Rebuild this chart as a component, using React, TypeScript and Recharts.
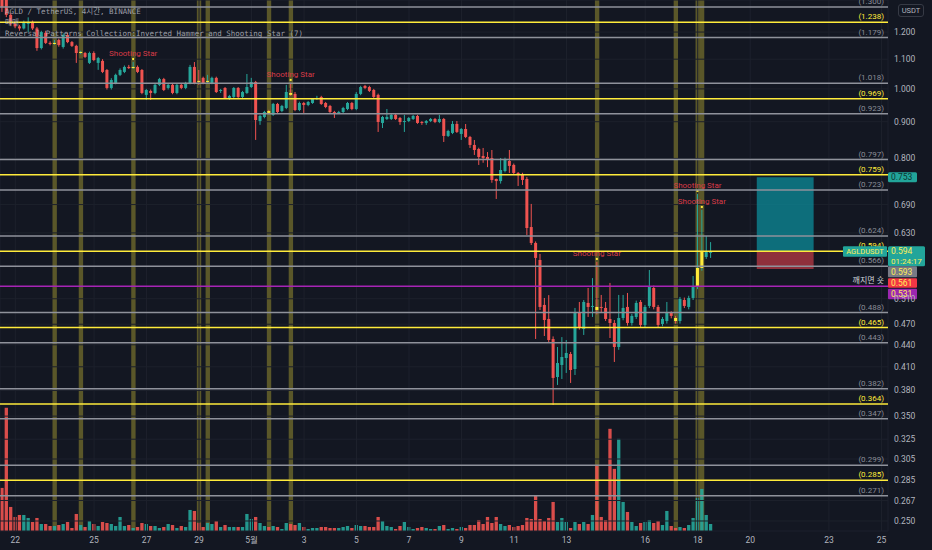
import React from 'react';
import { ComposedChart, Bar, XAxis, YAxis, ReferenceLine, ReferenceArea, CartesianGrid } from 'recharts';

// ---- data (AGLD / TetherUS, 4h candles) ----
const opens = [
  1.35, 1.343, 1.268, 1.232, 1.222, 1.214, 1.232, 1.24, 1.214, 1.14,
  1.197, 1.159, 1.155, 1.17, 1.144, 1.189, 1.162, 1.148, 1.122, 1.122,
  1.087, 1.122, 1.087, 1.094, 1.0625, 1.003, 1.019, 1.046, 1.056, 1.073,
  1.069, 1.073, 1.0625, 0.981, 0.9935, 0.987, 1.013, 1.032, 1.003, 1.013,
  0.987, 1.013, 1.003, 1.019, 1.073, 1.026, 1.036, 1.023, 1.019, 1.036,
  0.9935, 1.003, 0.968, 0.9745, 1.003, 0.9745, 0.987, 1.006, 1.0225, 0.902,
  0.9138, 0.9316, 0.92, 0.9528, 0.9316, 0.9406, 0.987, 0.984, 0.9345, 0.9558,
  0.9497, 0.9558, 0.968, 0.9745, 0.9558, 0.9467, 0.9286, 0.9271, 0.9286, 0.9376,
  0.9558, 0.9376, 0.984, 1.0095, 1.006, 0.9965, 0.981, 0.8965, 0.908, 0.908,
  0.92, 0.9109, 0.8993, 0.902, 0.908, 0.9168, 0.8993, 0.8965, 0.902, 0.908,
  0.8993, 0.908, 0.8599, 0.8682, 0.8936, 0.8654, 0.8793, 0.8571, 0.8354, 0.8246,
  0.8064, 0.8038, 0.8012, 0.749, 0.744, 0.7684, 0.7935, 0.7835, 0.7636, 0.7612,
  0.749, 0.642, 0.61, 0.5776, 0.5, 0.478, 0.4482, 0.3968, 0.4124, 0.4217,
  0.4272, 0.4071, 0.4873, 0.4629, 0.5032, 0.4968, 0.4968, 0.4968, 0.4952, 0.478,
  0.4719, 0.4369, 0.4795, 0.4968, 0.4719, 0.4811, 0.5048, 0.4689, 0.4984, 0.528,
  0.4968, 0.4704, 0.4749, 0.4873, 0.4795, 0.4749, 0.508, 0.4968, 0.5113, 0.5297,
  0.563, 0.5832, 0.5908,
];
const highs = [
  1.37, 1.36, 1.275, 1.24, 1.228, 1.245, 1.258, 1.245, 1.22, 1.205,
  1.205, 1.165, 1.17, 1.175, 1.195, 1.196, 1.166, 1.152, 1.13, 1.126,
  1.127, 1.128, 1.108, 1.1, 1.066, 1.035, 1.05, 1.068, 1.078, 1.08,
  1.09, 1.078, 1.066, 1.0, 0.998, 1.016, 1.036, 1.036, 1.017, 1.017,
  1.017, 1.017, 1.023, 1.08, 1.09, 1.0625, 1.04, 1.046, 1.04, 1.04,
  1.0, 1.006, 0.981, 1.006, 1.006, 0.9935, 1.049, 1.036, 1.026, 0.92,
  0.932, 0.935, 0.956, 0.956, 0.95, 1.013, 1.0193, 0.99, 0.96, 0.959,
  0.962, 0.971, 0.978, 0.978, 0.959, 0.95, 0.932, 0.932, 0.944, 0.959,
  0.959, 0.99, 1.01, 1.013, 1.01, 1.0, 0.985, 0.917, 0.9375, 0.923,
  0.923, 0.914, 0.92, 0.914, 0.92, 0.92, 0.902, 0.905, 0.911, 0.911,
  0.92, 0.911, 0.877, 0.902, 0.902, 0.882, 0.8935, 0.86, 0.8488, 0.828,
  0.8274, 0.8166, 0.822, 0.75, 0.8012, 0.802, 0.822, 0.787, 0.766, 0.764,
  0.754, 0.6914, 0.613, 0.5889, 0.5113, 0.516, 0.452, 0.4369, 0.451, 0.4468,
  0.43, 0.4952, 0.5048, 0.508, 0.528, 0.545, 0.574, 0.5163, 0.5048, 0.5366,
  0.4764, 0.5163, 0.5163, 0.5196, 0.486, 0.507, 0.508, 0.5, 0.5593, 0.532,
  0.5, 0.481, 0.5048, 0.49, 0.4827, 0.513, 0.512, 0.515, 0.5487, 0.714,
  0.6781, 0.6238, 0.6117,
];
const lows = [
  1.28, 1.259, 1.225, 1.215, 1.205, 1.21, 1.2, 1.208, 1.13, 1.135,
  1.155, 1.15, 1.152, 1.145, 1.138, 1.158, 1.144, 1.087, 1.118, 1.104,
  1.083, 1.093, 1.063, 1.052, 0.998, 0.998, 1.015, 1.042, 1.052, 1.066,
  1.066, 1.052, 0.983, 0.965, 0.965, 0.983, 1.009, 0.993, 0.998, 0.983,
  0.983, 0.999, 0.999, 1.015, 1.015, 1.013, 1.015, 1.019, 1.015, 0.987,
  0.987, 0.968, 0.965, 0.971, 0.971, 0.971, 0.984, 1.003, 0.849, 0.891,
  0.91, 0.922, 0.917, 0.925, 0.928, 0.937, 0.978, 0.931, 0.931, 0.9257,
  0.946, 0.953, 0.965, 0.95, 0.94, 0.925, 0.911, 0.924, 0.925, 0.934,
  0.934, 0.934, 0.98, 0.999, 0.99, 0.971, 0.871, 0.882, 0.905, 0.905,
  0.905, 0.891, 0.871, 0.899, 0.905, 0.894, 0.891, 0.891, 0.899, 0.896,
  0.896, 0.8434, 0.857, 0.865, 0.868, 0.849, 0.854, 0.8274, 0.809, 0.7835,
  0.789, 0.778, 0.74, 0.7025, 0.738, 0.765, 0.7636, 0.76, 0.7324, 0.7348,
  0.6258, 0.606, 0.4483, 0.492, 0.4526, 0.443, 0.3627, 0.3868, 0.3943, 0.402,
  0.3893, 0.3994, 0.462, 0.4541, 0.4811, 0.4811, 0.485, 0.4873, 0.475, 0.4497,
  0.4164, 0.433, 0.476, 0.468, 0.468, 0.478, 0.465, 0.465, 0.495, 0.493,
  0.465, 0.467, 0.471, 0.479, 0.471, 0.471, 0.495, 0.493, 0.508, 0.526,
  0.558, 0.5795, 0.5814,
];
const closes = [
  1.3, 1.268, 1.232, 1.222, 1.214, 1.236, 1.24, 1.214, 1.14, 1.2,
  1.159, 1.155, 1.159, 1.151, 1.189, 1.162, 1.148, 1.122, 1.126, 1.108,
  1.122, 1.097, 1.104, 1.056, 1.003, 1.029, 1.046, 1.0625, 1.073, 1.069,
  1.073, 1.056, 0.987, 0.9965, 0.987, 1.013, 1.032, 0.9965, 1.013, 0.987,
  1.013, 1.003, 1.019, 1.073, 1.019, 1.023, 1.019, 1.026, 1.036, 0.99,
  0.9965, 0.971, 0.9776, 1.003, 0.9745, 0.99, 1.006, 1.0225, 0.905, 0.9168,
  0.9286, 0.9257, 0.9528, 0.9286, 0.9467, 0.9902, 0.981, 0.9345, 0.9558, 0.9497,
  0.9589, 0.968, 0.9713, 0.9528, 0.9436, 0.9286, 0.9257, 0.9286, 0.9406, 0.9558,
  0.9376, 0.984, 1.006, 1.003, 0.9935, 0.9745, 0.8993, 0.9138, 0.914, 0.92,
  0.908, 0.8993, 0.902, 0.9109, 0.9168, 0.8965, 0.8965, 0.902, 0.908, 0.8993,
  0.908, 0.8599, 0.8737, 0.8936, 0.871, 0.8793, 0.8571, 0.8354, 0.822, 0.8038,
  0.8012, 0.7985, 0.7466, 0.744, 0.7709, 0.7985, 0.781, 0.7636, 0.7587, 0.7466,
  0.64, 0.61, 0.5814, 0.4968, 0.4764, 0.4468, 0.3956, 0.415, 0.4231, 0.4286,
  0.4058, 0.4873, 0.4659, 0.5048, 0.4968, 0.4984, 0.492, 0.4952, 0.478, 0.4719,
  0.4369, 0.4795, 0.4952, 0.4719, 0.4827, 0.5032, 0.4689, 0.4968, 0.5297, 0.4968,
  0.4689, 0.478, 0.4873, 0.4827, 0.4749, 0.5097, 0.4984, 0.5113, 0.5297, 0.563,
  0.5945, 0.5926, 0.594,
];
// volume in 10k AGLD
const volumes = [
  43, 123, 24, 14, 16, 16, 13, 9, 13, 7,
  7, 5, 5, 6, 7, 9, 3, 17, 6, 4,
  10, 7, 5, 9, 8, 7, 5, 14, 5, 6,
  3, 4, 8, 7, 5, 5, 3, 4, 7, 6,
  3, 5, 4, 21, 20, 8, 4, 8, 7, 10,
  4, 6, 4, 4, 4, 4, 17, 12, 14, 8,
  5, 4, 5, 4, 2, 8, 7, 6, 8, 4,
  2, 3, 3, 4, 4, 3, 3, 3, 4, 5,
  3, 6, 5, 5, 4, 4, 14, 10, 5, 4,
  2, 5, 9, 4, 2, 3, 4, 3, 2, 2,
  5, 6, 2, 3, 2, 4, 3, 6, 6, 11,
  7, 14, 8, 14, 7, 5, 6, 4, 5, 6,
  13, 12, 35, 12, 10, 13, 29, 9, 13, 9,
  3, 9, 7, 9, 7, 16, 66, 14, 11, 102,
  62, 92, 29, 19, 9, 5, 8, 9, 11, 8,
  10, 6, 20, 5, 3, 4, 3, 6, 13, 33,
  42, 16, 7,
];
const patternSlots = [12, 18, 30, 45, 47, 61, 66, 136, 154, 159, 160];
const shootingStarSlots = [30, 66, 136, 159, 160];
const futureSlots = 40;

const tickSlots = [3, 21, 33, 45, 57, 69, 81, 93, 105, 117, 129, 147, 159, 171, 189, 201];
const tickLabels = ['22', '25', '27', '29', '5월', '3', '5', '7', '9', '11', '13', '16', '18', '20', '23', '25'];
const priceTicks = [1.2, 1.1, 1.0, 0.9, 0.8, 0.69, 0.63, 0.51, 0.47, 0.44, 0.41, 0.38, 0.35, 0.325, 0.305, 0.285, 0.267, 0.25];

const grayLevels = [1.3, 1.179, 1.018, 0.923, 0.797, 0.723, 0.624, 0.566, 0.488, 0.443, 0.382, 0.347, 0.299, 0.271];
const yellowLevels = [1.238, 0.969, 0.759, 0.594, 0.465, 0.364, 0.285];
const breakLevel = 0.531;
const breakText = '깨지면 숏';

const posEntry = 0.594;
const posTarget = 0.753;
const posStop = 0.561;
const posFromSlot = 173;
const posToSlot = 185;

const lastPrice = 0.594;
const markPrice = 0.593;
const countdown = '01:24:17';
const symbolTag = 'AGLDUSDT';

const priceDomain: [number, number] = [0.2421, 1.33];
const volDomain: [number, number] = [0, 530];

// ---- styling ----
const BG = '#131722';
const TEAL = '#26a69a';
const RED = '#ef5350';
const YELLOW = '#ffeb3b';
const TAG_TEXT = '#ffee58';
const GRAY_LINE = '#8f929b';
const AXIS_TEXT = '#b2b5be';
const FONT = "Roboto, 'Noto Sans', 'Noto Sans CJK KR', sans-serif";
const MONO = "'DejaVu Sans Mono', 'Noto Sans CJK KR', monospace";
const W = 932;
const H = 550;

const rows = Array.from({ length: opens.length + futureSlots }, (_, i) =>
  i < opens.length
    ? {
        i,
        o: opens[i],
        h: highs[i],
        l: lows[i],
        c: closes[i],
        v: volumes[i],
        pat: patternSlots.includes(i),
        ss: shootingStarSlots.includes(i),
      }
    : { i }
);

const CandleShape = (props: any) => {
  const { x, y, width, height, payload } = props;
  if (!payload || payload.o == null || !isFinite(y) || !isFinite(height)) return <g />;
  const { o, h, l, c } = payload;
  const top = Math.min(y, y + height);
  const bot = Math.max(y, y + height);
  const lh = Math.log(h);
  const span = lh - Math.log(l) || 1;
  const py = (v: number) => top + ((bot - top) * (lh - Math.log(v))) / span;
  const cx = x + width / 2;
  const up = c >= o;
  const dirColor = up ? TEAL : RED;
  const bodyColor = payload.pat ? YELLOW : dirColor;
  const yo = py(o);
  const yc = py(c);
  const bt = Math.min(yo, yc);
  const bh = Math.max(1, Math.abs(yo - yc));
  return (
    <g>
      <rect x={cx - 0.5} y={top} width={1} height={Math.max(1, bot - top)} fill={dirColor} />
      <rect x={cx - 1.5} y={bt} width={3} height={bh} fill={bodyColor} />
      {payload.ss ? (
        <g>
          <rect x={cx - 1} y={top - 4} width={2} height={2} fill={YELLOW} />
          <text x={cx} y={top - 6} textAnchor="middle" fontSize={8} fontFamily={FONT} fill="#d93b47">
            Shooting Star
          </text>
        </g>
      ) : null}
    </g>
  );
};

const VolumeShape = (props: any) => {
  const { x, y, width, height, payload } = props;
  if (!payload || payload.v == null || !isFinite(y) || !isFinite(height)) return <g />;
  const cx = x + width / 2;
  const color = payload.c >= payload.o ? TEAL : RED;
  return <rect x={cx - 1.65} y={y} width={3.3} height={Math.max(0, height)} fill={color} fillOpacity={0.9} />;
};

const levelLabel = (text: string, color: string) => (props: any) => {
  const vb = props.viewBox || {};
  const right = (vb.x || 0) + (vb.width || 0);
  return (
    <text x={right - 4} y={(vb.y || 0) - 3} textAnchor="end" fontSize={8} fontFamily={FONT} fill={color}>
      {text}
    </text>
  );
};

const targetTag = (props: any) => {
  const vb = props.viewBox || {};
  const right = (vb.x || 0) + (vb.width || 0);
  const y = vb.y || 0;
  return (
    <g>
      <rect x={right} y={y - 5} width={29} height={10} fill="#22a59a" rx={1.5} />
      <text x={right + 3} y={y + 3} fontSize={8.5} fontFamily={FONT} fill="#0c3531">
        {posTarget.toFixed(3)}
      </text>
    </g>
  );
};

const currentTag = (props: any) => {
  const vb = props.viewBox || {};
  const right = (vb.x || 0) + (vb.width || 0);
  const y = vb.y || 0;
  return (
    <g fontFamily={FONT}>
      <rect x={right - 45} y={y - 5} width={44} height={10.5} fill="#22a59a" rx={1} />
      <text x={right - 23} y={y + 3} textAnchor="middle" fontSize={7.5} fill={TAG_TEXT}>
        {symbolTag}
      </text>
      <rect x={right} y={y - 5} width={37} height={20} fill="#22a59a" rx={1.5} />
      <text x={right + 3} y={y + 3} fontSize={8.5} fill={TAG_TEXT}>
        {lastPrice.toFixed(3)}
      </text>
      <text x={right + 3} y={y + 12.5} fontSize={8} fill={TAG_TEXT}>
        {countdown}
      </text>
      <rect x={right} y={y + 15} width={29} height={11} fill="#787b86" rx={1} />
      <text x={right + 3} y={y + 23.5} fontSize={8.5} fill={TAG_TEXT}>
        {markPrice.toFixed(3)}
      </text>
      <rect x={right} y={y + 27} width={29} height={9.5} fill="#f23645" rx={1} />
      <text x={right + 3} y={y + 35} fontSize={8.5} fill={TAG_TEXT}>
        {posStop.toFixed(3)}
      </text>
      <rect x={right} y={y + 37.5} width={29} height={10.5} fill="#9c27b0" rx={1} />
      <text x={right + 3} y={y + 46} fontSize={8.5} fill={TAG_TEXT}>
        {breakLevel.toFixed(3)}
      </text>
    </g>
  );
};

const xTickFormatter = (v: any) => {
  const k = tickSlots.indexOf(Number(v));
  return k >= 0 ? tickLabels[k] : '';
};

export default function App() {
  return (
    <div style={{ position: 'absolute', left: 0, top: 0, width: W, height: H, background: BG, overflow: 'hidden' }}>
      {/* bottom layer: pattern bands + volume */}
      <div style={{ position: 'absolute', left: 0, top: 0 }}>
        <ComposedChart width={W} height={H} data={rows} margin={{ top: 0, right: 0, bottom: 0, left: 0 }}>
          <XAxis dataKey="i" type="category" height={19} tick={false} axisLine={false} tickLine={false} />
          <YAxis
            orientation="right"
            width={44}
            domain={volDomain}
            allowDataOverflow
            tick={false}
            axisLine={false}
            tickLine={false}
          />
          {patternSlots.map((s) => (
            <ReferenceArea key={'band' + s} x1={s} x2={s} fill={YELLOW} fillOpacity={0.3} stroke="none" ifOverflow="visible" />
          ))}
          <Bar dataKey="v" shape={VolumeShape} isAnimationActive={false} />
        </ComposedChart>
      </div>

      {/* top layer: price */}
      <div style={{ position: 'absolute', left: 0, top: 0 }}>
        <ComposedChart width={W} height={H} data={rows} margin={{ top: 0, right: 0, bottom: 0, left: 0 }}>
          <CartesianGrid stroke="#1d212c" strokeWidth={1} />
          <XAxis
            dataKey="i"
            type="category"
            height={19}
            ticks={tickSlots}
            interval={0}
            tickFormatter={xTickFormatter}
            axisLine={false}
            tickLine={{ stroke: 'transparent' }}
            tickSize={4}
            tickMargin={2}
            tick={{ fill: AXIS_TEXT, fontSize: 8.5, fontFamily: FONT }}
          />
          <YAxis
            orientation="right"
            width={44}
            scale="log"
            domain={priceDomain}
            allowDataOverflow
            ticks={priceTicks}
            interval={0}
            tickFormatter={(v: number) => v.toFixed(3)}
            axisLine={false}
            tickLine={{ stroke: 'transparent' }}
            tickSize={4}
            tickMargin={2}
            tick={{ fill: AXIS_TEXT, fontSize: 8.5, fontFamily: FONT, textAnchor: 'start' }}
          />
          {grayLevels.map((v) => (
            <ReferenceLine
              key={'g' + v}
              y={v}
              stroke={GRAY_LINE}
              strokeWidth={1.5}
              label={levelLabel('(' + v.toFixed(3) + ')', '#8a8d96')}
            />
          ))}
          {yellowLevels.map((v) => (
            <ReferenceLine
              key={'y' + v}
              y={v}
              stroke={YELLOW}
              strokeWidth={1.5}
              label={levelLabel('(' + v.toFixed(3) + ')', YELLOW)}
            />
          ))}
          <ReferenceLine y={breakLevel} stroke="#a724b5" strokeWidth={1.5} label={levelLabel(breakText, '#d1d4dc')} />
          <ReferenceArea
            x1={posFromSlot}
            x2={posToSlot}
            y1={posEntry}
            y2={posTarget}
            fill="rgb(12,135,149)"
            fillOpacity={0.78}
            stroke="none"
          />
          <ReferenceArea
            x1={posFromSlot}
            x2={posToSlot}
            y1={posStop}
            y2={posEntry}
            fill="rgb(178,55,66)"
            fillOpacity={0.78}
            stroke="none"
          />
          <Bar
            dataKey={(d: any) => (d.h == null ? null : [d.l, d.h])}
            shape={CandleShape}
            isAnimationActive={false}
          />
          <ReferenceLine y={posTarget} stroke="transparent" label={targetTag} />
          <ReferenceLine y={lastPrice} stroke="transparent" label={currentTag} />
        </ComposedChart>
      </div>

      {/* legend / header */}
      <div
        style={{
          position: 'absolute',
          left: 5,
          top: 7,
          fontFamily: MONO,
          fontSize: 7.5,
          lineHeight: '10px',
          color: AXIS_TEXT,
          opacity: 0.85,
          whiteSpace: 'pre',
          pointerEvents: 'none',
        }}
      >
        <div>AGLD / TetherUS, 4시간, BINANCE</div>
        <div style={{ marginTop: 1 }}>매매</div>
        <div style={{ marginTop: 1 }}>Reversal Patterns Collection:Inverted Hammer and Shooting Star (7)</div>
      </div>
      <div
        style={{
          position: 'absolute',
          left: 898,
          top: 4,
          width: 24,
          height: 11,
          border: '1px solid #363a45',
          borderRadius: 3,
          fontFamily: FONT,
          fontSize: 7.5,
          lineHeight: '11px',
          color: AXIS_TEXT,
          textAlign: 'center',
          background: BG,
        }}
      >
        USDT
      </div>
    </div>
  );
}
